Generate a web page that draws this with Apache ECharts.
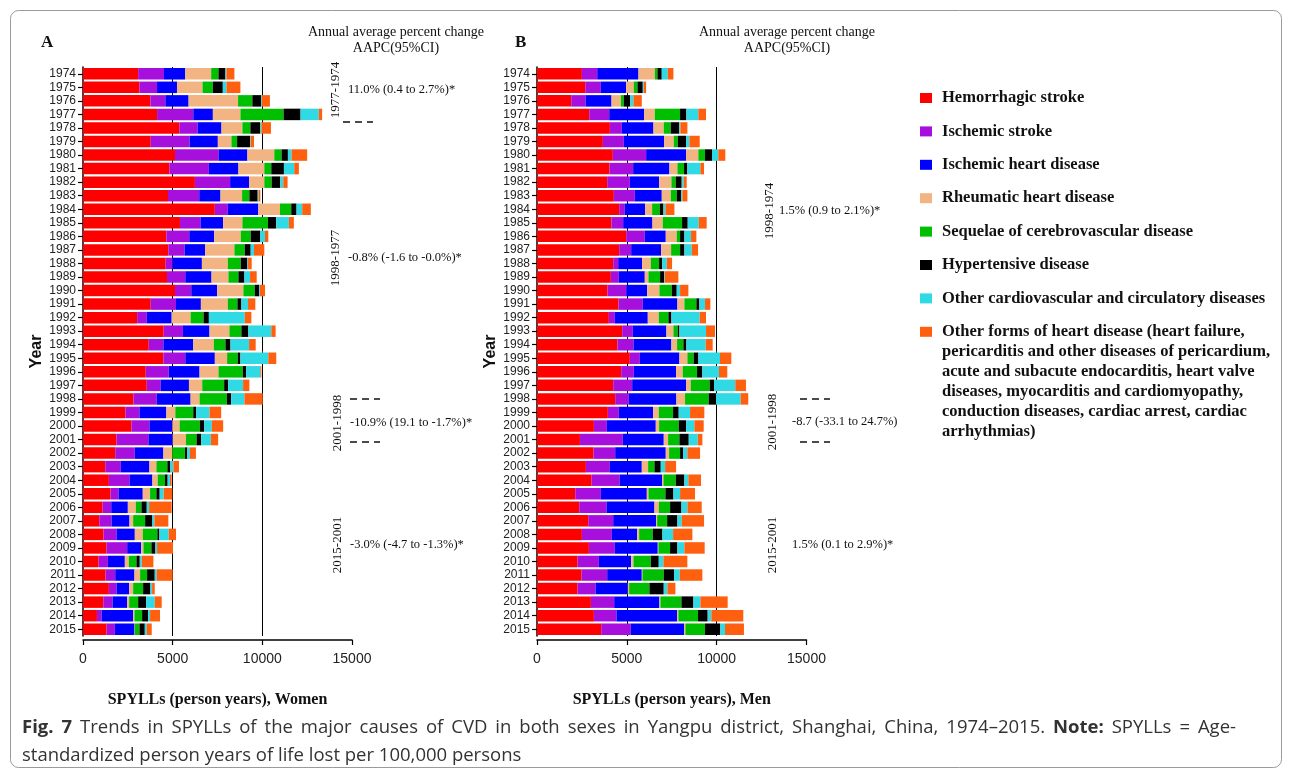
<!DOCTYPE html>
<html><head><meta charset="utf-8">
<script src="https://cdn.jsdelivr.net/npm/echarts@6/dist/echarts.min.js"></script>
<style>html,body{margin:0;padding:0;background:#fff}#c{width:1292px;height:776px}</style>
</head><body><div id="c"></div>
<script>
const years = ['1974','1975','1976','1977','1978','1979','1980','1981','1982','1983','1984','1985','1986','1987',
  '1988','1989','1990','1991','1992','1993','1994','1995','1996','1997','1998','1999','2000','2001',
  '2002','2003','2004','2005','2006','2007','2008','2009','2010','2011','2012','2013','2014','2015'];
const xTicks = [0, 5000, 10000, 15000];

const causes = ['Hemorrhagic stroke','Ischemic stroke','Ischemic heart disease','Rheumatic heart disease',
  'Sequelae of cerebrovascular disease','Hypertensive disease','Other cardiovascular and circulatory diseases',
  'Other forms of heart disease (heart failure,\npericarditis and other diseases of pericardium,\nacute and subacute endocarditis, heart valve\ndiseases, myocarditis and cardiomyopathy,\nconduction diseases, cardiac arrest, cardiac\narrhythmias)'];

// Women (panel A)
const womenHemorrhagic = [3074,3148,3759,4130,5370,3778,5130,4815,6241,4741,7352,5407,4648,4759,4611,4685,5130,3778,3019,4500,3667,4481,3500,3556,2815,2370,2704,1870,1796,1241,1444,1537,1093,907,1148,1315,870,1259,1444,1130,778,1315];
const womenIschemicStroke = [1444,981,833,2019,1019,2167,2426,2204,1963,1741,722,1148,1278,907,389,1019,907,1407,537,1074,815,1222,1278,778,1296,778,1000,1778,1093,870,1148,444,481,685,722,1148,519,537,426,519,259,463];
const womenIschemicHeart = [1185,1111,1296,1093,1333,1574,1611,1648,1056,1185,1704,1259,1389,1148,1630,1463,1444,1389,1389,1481,1667,1648,1722,1574,1889,1500,1278,1352,1593,1593,1278,1352,926,1000,1019,778,944,1074,704,815,1759,1093];
const womenRheumatic = [1444,1426,2759,1537,1167,759,1500,1444,852,1204,1204,1074,1481,1630,1444,944,1463,1500,1056,1111,1148,685,1056,741,500,500,407,741,500,389,296,407,444,204,444,130,222,315,222,111,74,19];
const womenSequelae = [407,574,796,2407,444,315,407,389,407,407,630,1426,556,574,722,556,630,537,722,667,648,593,1352,1222,1519,1000,1130,593,704,611,407,352,315,667,815,444,426,389,556,500,426,259];
const womenHypertensive = [389,556,500,944,537,722,352,704,481,463,296,463,537,333,370,333,259,222,296,389,278,148,185,222,241,167,241,259,130,167,148,185,296,407,111,222,185,426,407,444,333,296];
const womenOtherCardio = [56,204,37,1019,74,37,204,574,167,56,315,704,259,185,37,315,37,370,2000,1278,1037,1556,796,833,741,741,426,537,148,167,130,222,130,111,519,93,111,111,93,481,111,111];
const womenOtherHeart = [444,778,444,185,537,185,870,259,241,93,481,278,185,574,204,370,278,407,370,241,370,444,56,352,1019,648,630,407,333,315,93,481,1259,778,407,889,648,889,148,389,556,278];

// Men (panel B)
const menHemorrhagic = [2500,2685,1907,2907,4056,3667,4222,4037,3907,4278,4574,4148,4963,4574,4241,4111,3926,4537,4000,4741,4481,5167,4685,4241,4352,3944,3167,2389,3148,2722,3037,2130,2352,2852,2500,2889,2259,2481,2259,3000,3167,3574];
const menIschemicStroke = [852,870,796,1111,667,1167,1852,1315,1259,1167,315,648,1037,667,278,444,1037,1352,333,593,889,556,704,1056,759,611,722,2389,1204,1333,1556,1426,1519,1389,1667,1444,1185,1426,1000,1296,1259,1648];
const menIschemicHeart = [2296,1407,1444,1944,1759,2241,2222,2019,1630,1500,1130,1630,1167,1667,1333,1444,1167,1926,1833,1870,2111,2204,2352,3000,2648,1907,2722,2278,2815,1778,2370,2556,2667,2389,1407,2389,1796,1926,1796,2519,3370,2963];
const menRheumatic = [907,426,519,593,574,537,685,444,685,500,389,574,611,556,481,204,685,389,611,389,315,444,370,259,481,315,185,241,185,352,74,93,241,56,111,37,130,37,74,56,74,74];
const menSequelae = [148,204,167,1407,389,222,370,370,241,333,426,1074,185,500,463,648,685,667,537,241,352,352,796,1056,1315,796,1093,630,611,352,685,944,630,556,759,648,963,1185,1130,1167,1093,1093];
const menHypertensive = [241,296,352,352,463,463,389,185,333,241,204,315,241,241,167,222,278,167,167,93,167,259,296,241,407,315,407,519,167,352,481,444,630,574,537,407,444,574,796,667,537,852];
const menOtherCardio = [333,56,185,667,74,185,352,722,111,74,111,611,370,407,259,37,185,315,1574,1481,1074,1204,926,1185,1370,630,463,500,241,241,222,370,333,241,593,389,259,315,204,389,204,259];
const menOtherHeart = [315,130,463,426,389,574,389,204,167,278,500,444,296,352,296,759,463,296,352,500,389,630,463,593,426,796,519,259,704,611,704,833,796,1241,1074,1130,1333,1259,444,1519,1778,1056];

const womenSeries = [womenHemorrhagic, womenIschemicStroke, womenIschemicHeart, womenRheumatic, womenSequelae, womenHypertensive, womenOtherCardio, womenOtherHeart];
const menSeries = [menHemorrhagic, menIschemicStroke, menIschemicHeart, menRheumatic, menSequelae, menHypertensive, menOtherCardio, menOtherHeart];

// AAPC annotations
const aapcWomen = [
  {period:'1977-1974', text:'11.0% (0.4 to 2.7%)*'},
  {period:'1998-1977', text:'-0.8% (-1.6 to -0.0%)*'},
  {period:'2001-1998', text:'-10.9% (19.1 to -1.7%)*'},
  {period:'2015-2001', text:'-3.0% (-4.7 to -1.3%)*'}
];
const aapcMen = [
  {period:'1998-1974', text:'1.5% (0.9 to 2.1%)*'},
  {period:'2001-1998', text:'-8.7 (-33.1 to 24.7%)'},
  {period:'2015-2001', text:'1.5% (0.1 to 2.9%)*'}
];

// caption words (bold flag) of justified first line, and second line
const captionLine1 = [['Fig.',1],['7',1],['Trends',0],['in',0],['SPYLLs',0],['of',0],['the',0],['major',0],['causes',0],['of',0],['CVD',0],['in',0],['both',0],['sexes',0],['in',0],['Yangpu',0],['district,',0],['Shanghai,',0],['China,',0],['1974\u20132015.',0],['Note:',1],['SPYLLs',0],['=',0],['Age-',0]];
const captionLine2 = 'standardized person years of life lost per 100,000 persons';

const colors = ['#ff0000','#a70fdc','#0000ff','#f2b482','#00bf00','#000000','#30dae4','#ff6010'];
const SERIF = '"Liberation Serif", "Times New Roman", serif';
const SANS = '"Liberation Sans", Arial, sans-serif';
const CAP = '"Open Sans", sans-serif';

const chart = echarts.init(document.getElementById('c'), null, {renderer:'canvas'});

function xAx(gi, name) {
  return {
    gridIndex: gi, type:'value', min:0, max:15000, interval:5000, offset:4,
    axisLine:{show:true, lineStyle:{color:'#000', width:1.5}},
    axisTick:{show:true, length:5, lineStyle:{color:'#000', width:1.2}},
    axisLabel:{fontFamily:SANS, fontSize:14, color:'#222', margin:12, formatter: v => String(v)},
    splitLine:{show:true, lineStyle:{color:['rgba(0,0,0,0)','#000','#000','rgba(0,0,0,0)'], width:1}},
    name:name, nameLocation:'middle', nameGap:52,
    nameTextStyle:{fontFamily:SERIF, fontWeight:'bold', fontSize:16, color:'#111'}
  };
}
function yAx(gi) {
  return {
    gridIndex: gi, type:'category', data: years, inverse:true,
    axisLine:{show:true, lineStyle:{color:'#000', width:1.5}},
    axisTick:{show:true, alignWithLabel:true, length:5, lineStyle:{color:'#000', width:1.2}},
    axisLabel:{interval:0, fontFamily:SANS, fontSize:12, color:'#222', margin:7},
    splitLine:{show:false},
    name:'Year', nameLocation:'middle', nameGap:38, nameRotate:90,
    nameTextStyle:{fontFamily:SANS, fontWeight:'bold', fontSize:16, color:'#111'}
  };
}

const series = [];
causes.forEach((c, i) => {
  series.push({name:c, type:'bar', stack:'women', xAxisIndex:0, yAxisIndex:0, data:womenSeries[i],
    barWidth:11.5, itemStyle:{color:colors[i]}, silent:true});
  series.push({name:c, type:'bar', stack:'men', xAxisIndex:1, yAxisIndex:1, data:menSeries[i],
    barWidth:11.5, itemStyle:{color:colors[i]}, silent:true});
});

const graphic = [];
// frame
graphic.push({type:'rect', shape:{x:10.5, y:10.5, width:1271, height:757, r:8}, style:{fill:'none', stroke:'#9a9a9a', lineWidth:1}, z:-1});
// panel letters
graphic.push({type:'text', x:41, y:34, style:{text:'A', font:'bold 17px ' + SERIF, fill:'#111'}});
graphic.push({type:'text', x:515, y:34, style:{text:'B', font:'bold 17px ' + SERIF, fill:'#111'}});
// AAPC headers
[396, 787].forEach((cx) => {
  graphic.push({type:'text', x:cx, y:32, style:{text:'Annual average percent change', font:'14px ' + SERIF, fill:'#111', align:'center', verticalAlign:'middle'}});
  graphic.push({type:'text', x:cx, y:48, style:{text:'AAPC(95%CI)', font:'14px ' + SERIF, fill:'#111', align:'center', verticalAlign:'middle'}});
});
function periodLabel(x, y, t) {
  graphic.push({type:'text', x:x, y:y, rotation:Math.PI/2, style:{text:t, font:'13px ' + SERIF, fill:'#111', align:'center', verticalAlign:'middle'}});
}
function valueLabel(x, y, t) {
  graphic.push({type:'text', x:x, y:y, style:{text:t, font:'12.5px ' + SERIF, fill:'#111', align:'left', verticalAlign:'middle'}});
}
function dashes(x, y) {
  graphic.push({type:'line', shape:{x1:x, y1:y, x2:x+30, y2:y}, style:{stroke:'#111', lineWidth:1.6, lineDash:[7,5]}});
}
const wPos = [[336, 90, 348, 90], [336, 258, 348, 258], [338, 423, 350, 423], [338, 545, 350, 545]];
aapcWomen.forEach((a, i) => { periodLabel(wPos[i][0], wPos[i][1], a.period); valueLabel(wPos[i][2], wPos[i][3], a.text); });
dashes(343, 122); dashes(350, 399); dashes(350, 442);
const mPos = [[770, 211, 779, 211], [773, 422, 792, 422], [773, 545, 792, 545]];
aapcMen.forEach((a, i) => { periodLabel(mPos[i][0], mPos[i][1], a.period); valueLabel(mPos[i][2], mPos[i][3], a.text); });
dashes(800, 399); dashes(800, 442);

// legend
const legTop = 98, legPitch = 33.4;
causes.forEach((c, i) => {
  const cy = legTop + i * legPitch;
  graphic.push({type:'rect', shape:{x:920, y:cy - 5, width:12, height:10}, style:{fill:colors[i]}});
  graphic.push({type:'text', x:942, y:cy - 10, style:{text:c, font:'bold 16.5px ' + SERIF, fill:'#111', align:'left', verticalAlign:'top', lineHeight:20}});
});

// caption: first line justified between x=22 and x=1236
(function () {
  const ctx = document.createElement('canvas').getContext('2d');
  const fontOf = b => (b ? 'bold ' : '') + '18.5px ' + CAP;
  const widths = captionLine1.map(([w, b]) => { ctx.font = fontOf(b); return ctx.measureText(w).width; });
  const total = widths.reduce((s, w) => s + w, 0);
  const left = 22, right = 1236;
  const gap = Math.max(4, (right - left - total) / (captionLine1.length - 1));
  let x = left;
  captionLine1.forEach(([w, b], i) => {
    graphic.push({type:'text', x:x, y:728, style:{text:w, font:fontOf(b), fill:'#333', align:'left', verticalAlign:'middle'}});
    x += widths[i] + gap;
  });
  graphic.push({type:'text', x:left, y:756, style:{text:captionLine2, font:fontOf(0), fill:'#333', align:'left', verticalAlign:'middle'}});
})();

chart.setOption({
  animation:false,
  backgroundColor:'#fff',
  grid:[{left:83, top:67, width:269, height:569}, {left:537, top:67, width:269.5, height:569}],
  xAxis:[xAx(0,'SPYLLs (person years), Women'), xAx(1,'SPYLLs (person years), Men')],
  yAxis:[yAx(0), yAx(1)],
  series:series,
  graphic:graphic
});
</script></body></html>
